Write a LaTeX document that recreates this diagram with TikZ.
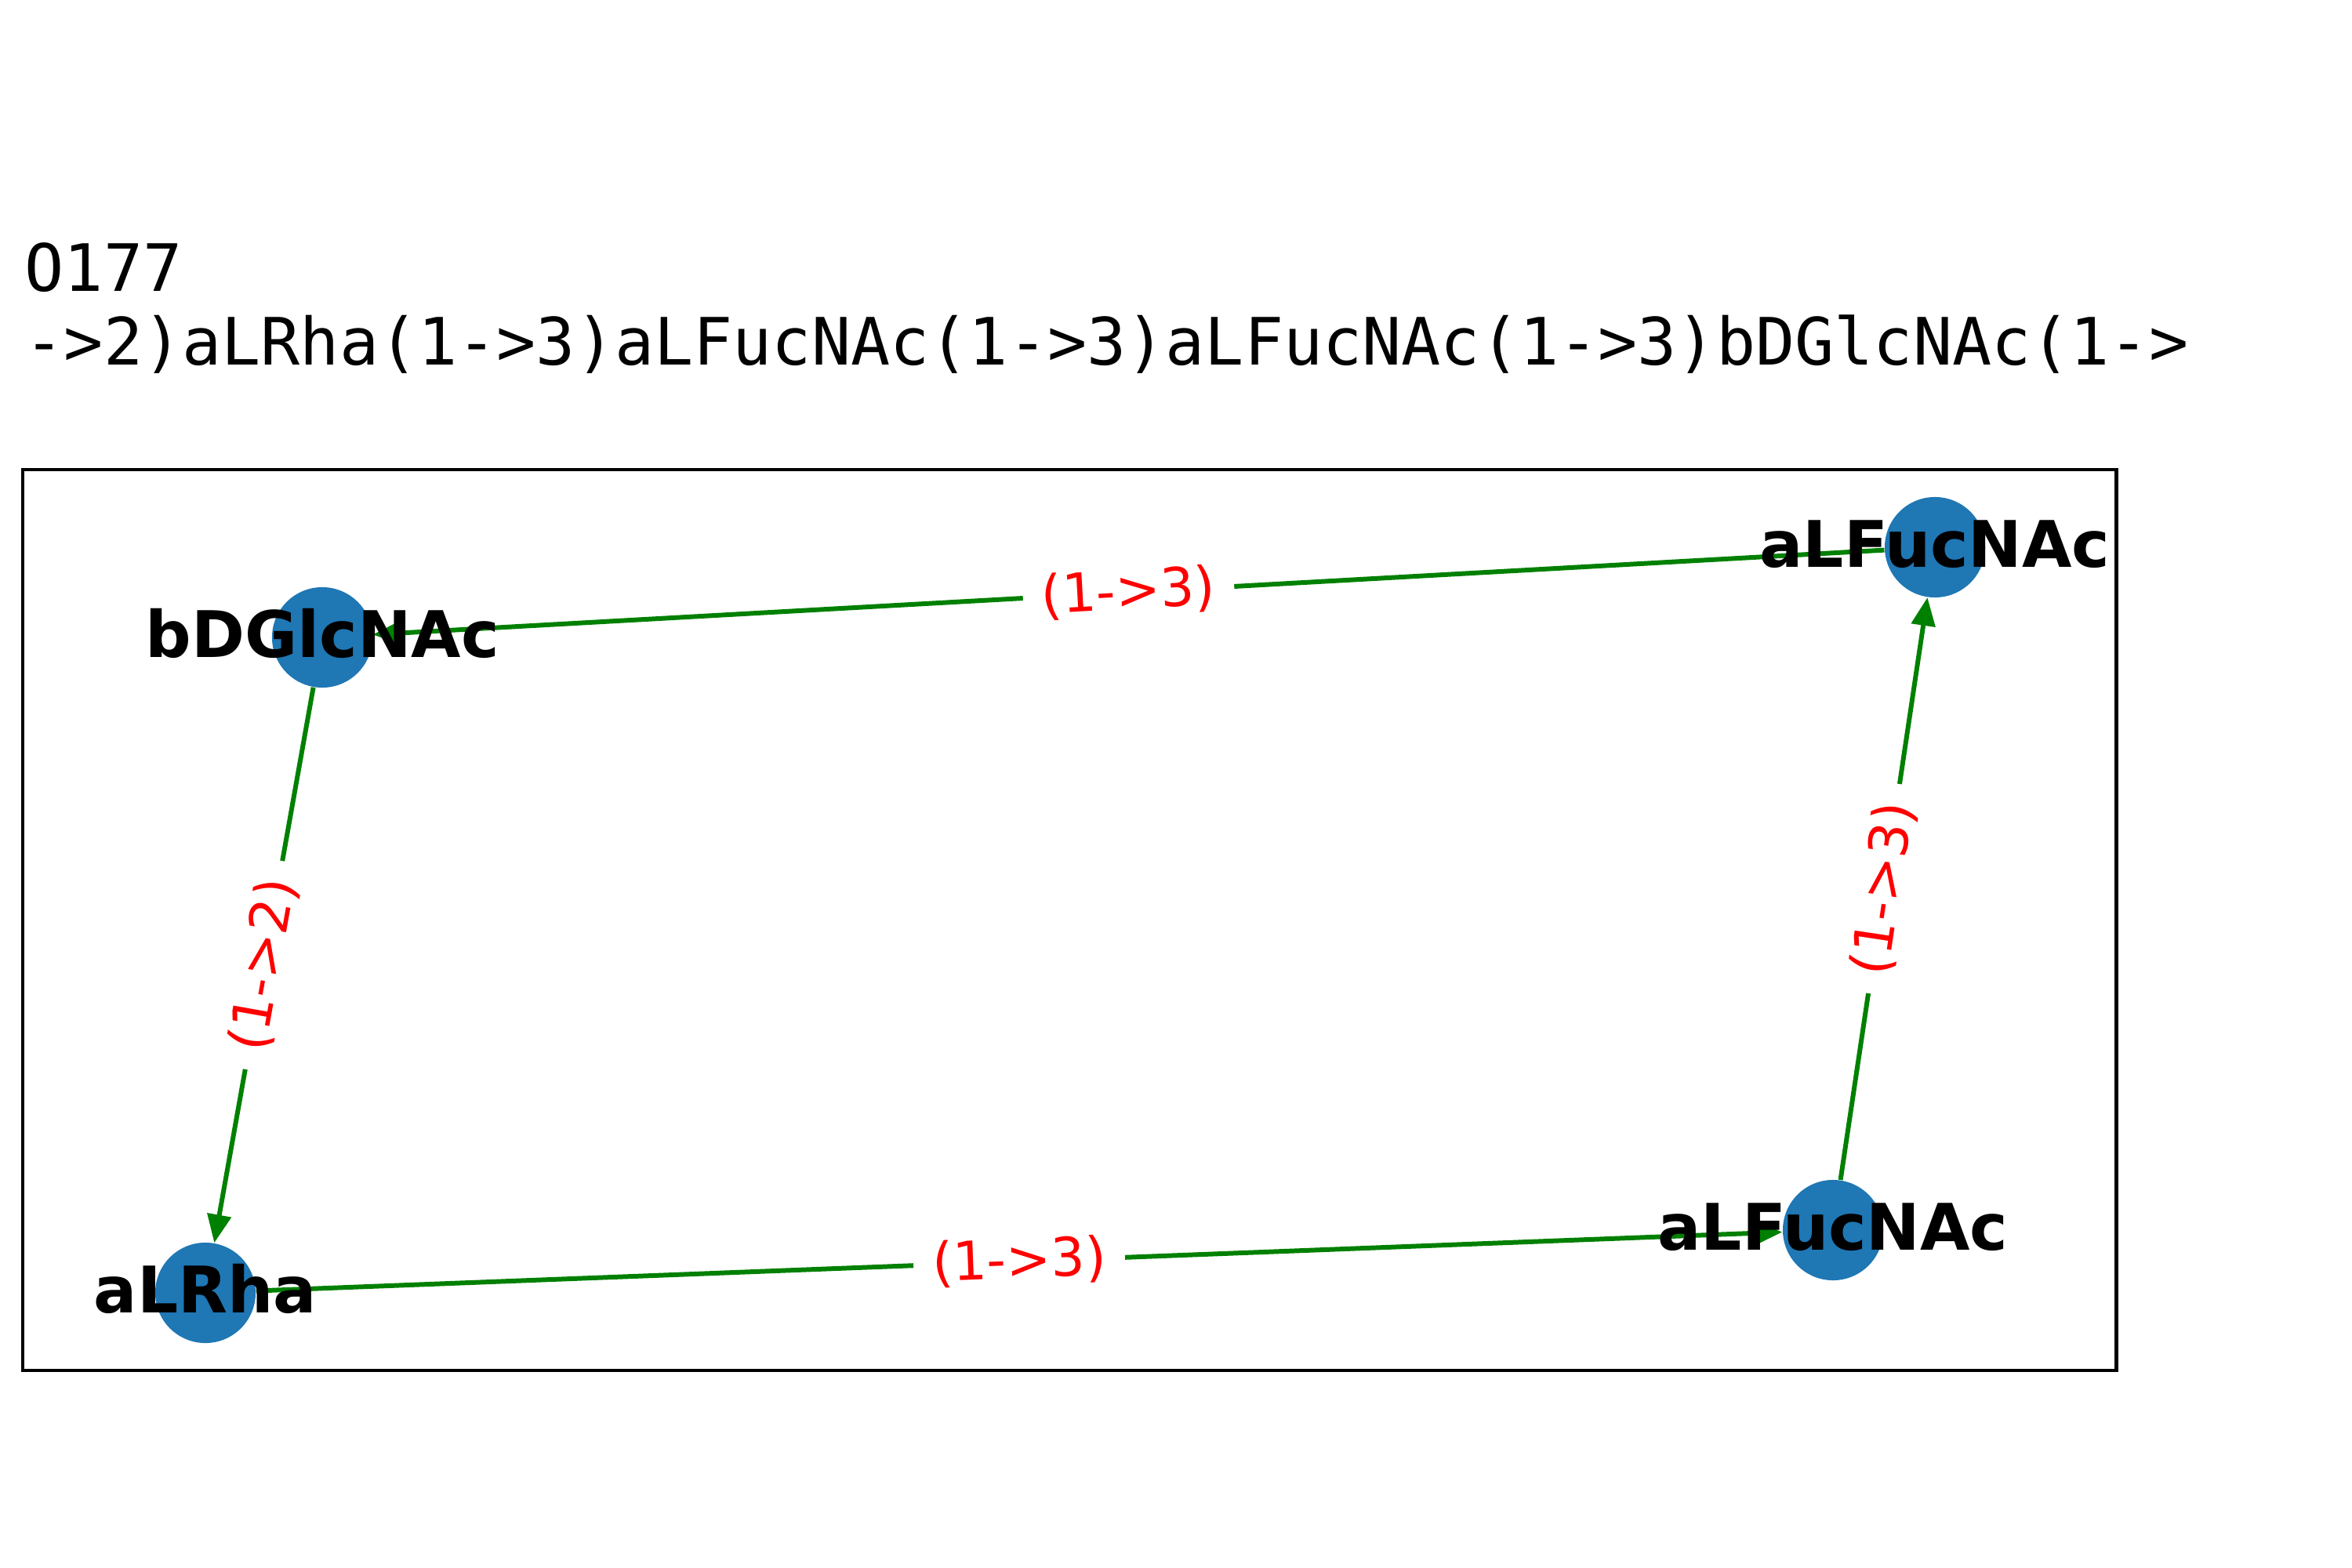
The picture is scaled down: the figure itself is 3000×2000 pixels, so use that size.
\documentclass[tikz,border=0pt]{standalone}
\usepackage{fontspec}
\setmainfont{DejaVu Sans}
\newfontfamily\titlefont{DejaVu Sans Mono}
\usetikzlibrary{arrows.meta}
\definecolor{nodeblue}{HTML}{1F77B4}
\definecolor{edgegreen}{HTML}{008000}
\begin{document}
\begin{tikzpicture}[x=0.01cm,y=-0.01cm,
  sugar/.style={circle, fill=nodeblue, draw=none, minimum size=1.28cm, inner sep=0pt},
  nlabel/.style={anchor=base, inner sep=0pt, font=\fontsize{23.3pt}{28pt}\selectfont\bfseries},
  edgeline/.style={draw=edgegreen, line width=1.7pt, -{Triangle[length=0.36cm,width=0.3cm]}},
  elabel/.style={sloped, fill=white, text=red, inner xsep=0.24cm, inner ysep=0.12cm, font=\fontsize{19.4pt}{23pt}\selectfont},
  titletext/.style={anchor=base west, inner sep=0pt, font=\titlefont\fontsize{23.7pt}{28pt}\selectfont}]
\useasboundingbox (0,0) rectangle (3000,2000);
% title
\node[titletext] (t1) at (31,371) {O177};
\node[titletext] (t2) at (31,465) {->2)aLRha(1->3)aLFucNAc(1->3)aLFucNAc(1->3)bDGlcNAc(1->};
% frame
\draw[line width=1.4pt] (29,599) rectangle (2699,1748);
% nodes
\node[sugar] (b) at (411,813) {};
\node[sugar] (f1) at (2468,698) {};
\node[sugar] (f2) at (2338,1569) {};
\node[sugar] (r) at (262,1649) {};
% edges
\draw[edgeline] (f1) -- node[elabel] (e1) {(1->3)} (b);
\draw[edgeline] (b) -- node[elabel] (e2) {(1->2)} (r);
\draw[edgeline] (r) -- node[elabel] (e3) {(1->3)} (f2);
\draw[edgeline] (f2) -- node[elabel] (e4) {(1->3)} (f1);
% node labels
\node[nlabel] (lb) at (411,838) {bDGlcNAc};
\node[nlabel] (lf1) at (2468,723) {aLFucNAc};
\node[nlabel] (lf2) at (2338,1594) {aLFucNAc};
\node[nlabel] (lr) at (262,1674) {aLRha};
\end{tikzpicture}
\end{document}
